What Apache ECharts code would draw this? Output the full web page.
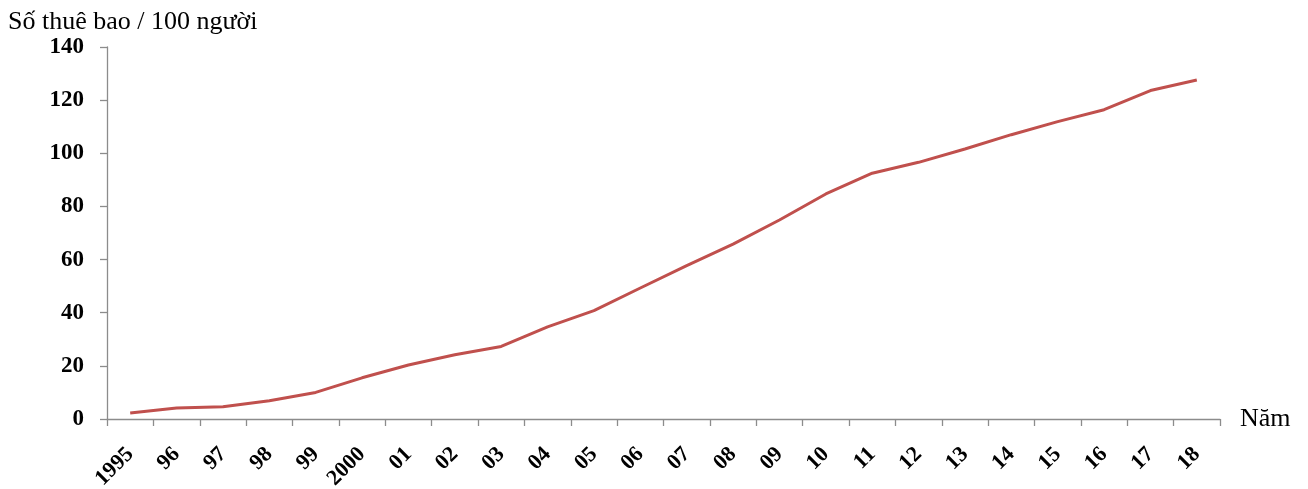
<!DOCTYPE html>
<html>
<head>
<meta charset="utf-8">
<script src="https://cdn.jsdelivr.net/npm/echarts@6/dist/echarts.min.js"></script>
<style>
  html, body { margin: 0; padding: 0; background: #fff; }
  #chart { width: 1308px; height: 489px; }
</style>
</head>
<body>
<div id="chart"></div>
<script>
// Years on the x axis (as labelled in the picture)
const years = ['1995', '96', '97', '98', '99', '2000', '01', '02', '03', '04', '05', '06',
  '07', '08', '09', '10', '11', '12', '13', '14', '15', '16', '17', '18'];

// Subscriptions per 100 people
const subscriptions = [2.3, 4.1, 4.6, 6.9, 10.0, 15.5, 20.3, 24.2, 27.3, 34.7, 40.8, 49.3,
  57.7, 65.8, 74.9, 84.7, 92.5, 96.6, 101.6, 107.0, 111.9, 116.4, 123.6, 127.6];

const yTicks = { min: 0, max: 140, interval: 20 };

const serif = '"Liberation Serif", "DejaVu Serif", serif';

let chart = echarts.init(document.getElementById('chart'), null, { renderer: 'canvas' });

chart.setOption({
  animation: false,
  backgroundColor: '#fff',
  grid: { left: 107, right: 88, top: 47, bottom: 70, containLabel: false, outerBoundsMode: 'none' },
  xAxis: {
    type: 'category',
    data: years,
    boundaryGap: true,
    name: 'Năm',
    nameLocation: 'end',
    nameGap: 20,
    nameTextStyle: { fontFamily: serif, fontSize: 26, color: '#000', verticalAlign: 'middle' },
    axisLine: { lineStyle: { color: '#8c8c8c', width: 1.3 } },
    axisTick: { show: true, length: 7, inside: false, lineStyle: { color: '#8c8c8c', width: 1.3 } },
    axisLabel: {
      rotate: 45,
      margin: 32,
      interval: 0,
      fontFamily: serif,
      fontWeight: 'bold',
      fontSize: 22,
      color: '#000'
    },
    splitLine: { show: false }
  },
  yAxis: {
    type: 'value',
    min: yTicks.min,
    max: yTicks.max,
    interval: yTicks.interval,
    name: 'Số thuê bao / 100 người',
    nameLocation: 'end',
    nameGap: 11,
    nameTextStyle: {
      fontFamily: serif, fontSize: 26, color: '#000',
      align: 'left', padding: [0, 0, 0, -99]
    },
    axisLine: { show: true, lineStyle: { color: '#8c8c8c', width: 1.3 } },
    axisTick: { show: true, length: 7, lineStyle: { color: '#8c8c8c', width: 1.3 } },
    axisLabel: {
      margin: 23,
      fontFamily: serif,
      fontWeight: 'bold',
      fontSize: 23,
      color: '#000'
    },
    splitLine: { show: false }
  },
  series: [
    {
      type: 'line',
      data: subscriptions,
      symbol: 'none',
      smooth: false,
      lineStyle: { color: '#c0504d', width: 3 },
      itemStyle: { color: '#c0504d' }
    }
  ]
});
</script>
</body>
</html>
